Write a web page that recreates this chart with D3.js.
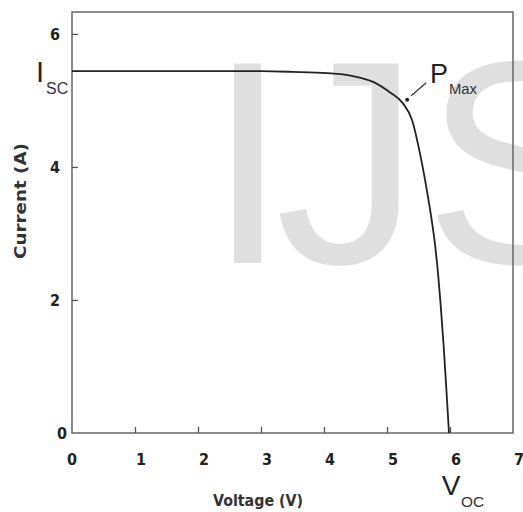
<!DOCTYPE html>
<html>
<head>
<meta charset="utf-8">
<script src="https://cdn.jsdelivr.net/npm/d3@7"></script>
<style>
	body { margin: 0; background: #fff; }
	svg { display: block; }
</style>
</head>
<body>
<div id="chart"></div>
<script>
// I-V curve
const voltage = [0, 1, 2, 3, 3.5, 4.05, 4.44, 4.78, 5.05, 5.25, 5.4, 5.52, 5.62, 5.7, 5.76, 5.81, 5.85, 5.9, 5.944, 5.984];
const current = [5.44, 5.44, 5.44, 5.44, 5.43, 5.41, 5.37, 5.28, 5.12, 4.96, 4.7, 4.22, 3.72, 3.26, 2.85, 2.4, 1.95, 1.3, 0.63, 0];

const xTicks = [0, 1, 2, 3, 4, 5, 6, 7];
const yTicks = [0, 2, 4, 6];

// annotation points
const pMax = { v: 5.32, i: 5.01 };
const vOc = 5.98;
const iSc = 5.44;

const width = 523;
const height = 512;
const margin = { top: 12, right: 10, bottom: 79, left: 72 };

const svg = d3
	.select("#chart")
	.append("svg")
	.attr("width", width)
	.attr("height", height);

const x = d3
	.scaleLinear()
	.domain([0, 7])
	.range([margin.left, width - margin.right]);

const y = d3
	.scaleLinear()
	.domain([0, 6.33])
	.range([height - margin.bottom, margin.top]);

// watermark letters behind everything
// measure the glyph ink with a canvas so the letters land where they are in the picture
const wmFont = "Liberation Sans";
const ctx = document.createElement("canvas").getContext("2d");
ctx.font = `100px "${wmFont}"`;
const capRef = ctx.measureText("I").actualBoundingBoxAscent || 71.6;
const wmSize = (100 * 200) / capRef;
ctx.font = `${wmSize}px "${wmFont}"`;
const mI = ctx.measureText("I");
const mJ = ctx.measureText("J");
const mS = ctx.measureText("S");

const wm = svg.append("g")
	.attr("font-family", `${wmFont}, Arial, sans-serif`)
	.attr("font-size", wmSize)
	.attr("fill", "#dfdfdf");
wm.append("text").attr("x", 230 + mI.actualBoundingBoxLeft).attr("y", 263).text("I");
wm.append("text").attr("x", 402 - mJ.actualBoundingBoxRight).attr("y", 263).text("J");
wm.append("text").attr("x", 433 + mS.actualBoundingBoxLeft).attr("y", 263).text("S");

// frame
svg.append("rect")
	.attr("x", x(0))
	.attr("y", y(6.33))
	.attr("width", x(7) - x(0))
	.attr("height", y(0) - y(6.33))
	.attr("fill", "none")
	.attr("stroke", "#666")
	.attr("stroke-width", 1.5);

const tickFont = "DejaVu Sans Condensed, DejaVu Sans, sans-serif";

// x axis, ticks pointing inward
const xAxis = d3.axisTop(x).tickValues(xTicks).tickSize(6).tickFormat("");
const gx = svg.append("g")
	.attr("transform", `translate(0,${y(0)})`)
	.call(xAxis);
gx.select(".domain").remove();
gx.selectAll("line").attr("stroke", "#555").attr("stroke-width", 1.3);
gx.selectAll("line").filter((d) => d === 0 || d === 7).remove();

svg.append("g")
	.selectAll("text")
	.data(xTicks)
	.enter()
	.append("text")
	.attr("x", (d) => x(d) + (d === 0 ? 0 : 6))
	.attr("y", 465)
	.attr("text-anchor", "middle")
	.attr("font-family", tickFont)
	.attr("font-weight", "bold")
	.attr("font-size", 16)
	.attr("fill", "#222")
	.text((d) => d);

// y axis, ticks pointing inward
const yAxis = d3.axisRight(y).tickValues(yTicks).tickSize(6).tickFormat("");
const gy = svg.append("g")
	.attr("transform", `translate(${x(0)},0)`)
	.call(yAxis);
gy.select(".domain").remove();
gy.selectAll("line").attr("stroke", "#555").attr("stroke-width", 1.3);
gy.selectAll("line").filter((d) => d === 0).remove();

svg.append("g")
	.selectAll("text")
	.data(yTicks)
	.enter()
	.append("text")
	.attr("x", (d) => (d === 0 ? 67 : 60))
	.attr("y", (d) => y(d) + 6)
	.attr("text-anchor", "end")
	.attr("font-family", tickFont)
	.attr("font-weight", "bold")
	.attr("font-size", 16)
	.attr("fill", "#222")
	.text((d) => d);

// axis titles
svg.append("text")
	.attr("x", 258)
	.attr("y", 506)
	.attr("text-anchor", "middle")
	.attr("font-family", tickFont)
	.attr("font-weight", "bold")
	.attr("font-size", 16)
	.attr("textLength", 90)
	.attr("lengthAdjust", "spacingAndGlyphs")
	.attr("fill", "#333")
	.text("Voltage (V)");

svg.append("text")
	.attr("transform", "translate(26,201) rotate(-90)")
	.attr("text-anchor", "middle")
	.attr("font-family", tickFont)
	.attr("font-weight", "bold")
	.attr("font-size", 15)
	.attr("textLength", 116)
	.attr("lengthAdjust", "spacingAndGlyphs")
	.attr("fill", "#333")
	.text("Current (A)");

// the I-V curve
const points = voltage.map((v, i) => [v, current[i]]);
const line = d3
	.line()
	.x((d) => x(d[0]))
	.y((d) => y(d[1]))
	.curve(d3.curveMonotoneX);

svg.append("path")
	.datum(points)
	.attr("d", line)
	.attr("fill", "none")
	.attr("stroke", "#222")
	.attr("stroke-width", 1.8);

// annotations: big letter + subscript
const labelFont = "Liberation Sans, Arial, sans-serif";

function subLabel(px, py, main, sub, size, subX) {
	svg.append("text")
		.attr("x", px)
		.attr("y", py)
		.attr("font-family", labelFont)
		.attr("font-size", size)
		.attr("fill", "#222")
		.text(main);
	svg.append("text")
		.attr("x", subX)
		.attr("y", py + size * 0.42)
		.attr("font-family", labelFont)
		.attr("font-size", size * 0.55)
		.attr("fill", "#333")
		.text(sub);
}

subLabel(36, y(iSc) + 11, "I", "SC", 29, 46);
subLabel(430, 83, "P", "Max", 27, 449);
subLabel(x(vOc) - 7, 495, "V", "OC", 28, 461);

svg.append("circle")
	.attr("cx", x(pMax.v))
	.attr("cy", y(pMax.i))
	.attr("r", 2)
	.attr("fill", "#222");

svg.append("line")
	.attr("x1", x(pMax.v) + 4)
	.attr("y1", y(pMax.i) - 4)
	.attr("x2", x(pMax.v) + 19)
	.attr("y2", y(pMax.i) - 17)
	.attr("stroke", "#333")
	.attr("stroke-width", 1.2);
</script>
</body>
</html>
